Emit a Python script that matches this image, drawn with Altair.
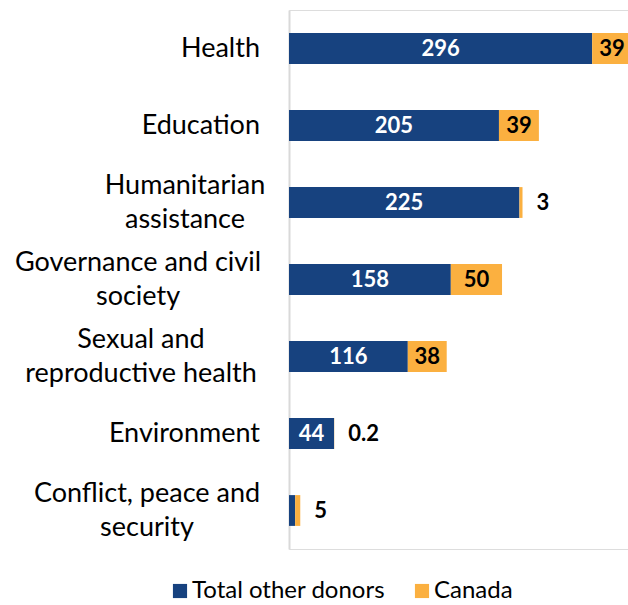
import altair as alt
import pandas as pd

categories = ["Health", "Education", "Humanitarian\nassistance", "Governance and civil\nsociety",
              "Sexual and\nreproductive health", "Environment", "Conflict, peace and\nsecurity"]
other_donors = [296, 205, 225, 158, 116, 44, 6]
canada = [39, 39, 3, 50, 38, 0.2, 5]
series = ["Total other donors", "Canada"]
colors = ["#17427F", "#FBB040"]

rows = []
for c, o, k in zip(categories, other_donors, canada):
    rows.append({"cat": c, "series": series[0], "value": o, "ord": 0,
                 "start": 0, "end": o, "label": f"{o:g}", "show": o >= 10})
    rows.append({"cat": c, "series": series[1], "value": k, "ord": 1,
                 "start": o, "end": o + k, "label": f"{k:g}", "show": True})
df = pd.DataFrame(rows)
df["mid"] = (df["start"] + df["end"]) / 2
df["inside"] = df["value"] >= 10

FONT = "Lato"
LABEL_SIZE = 27
y = alt.Y("cat:N", sort=categories, title=None,
          scale=alt.Scale(paddingInner=0.6, paddingOuter=0.3),
          axis=alt.Axis(labels=False, ticks=False, domainColor="#D9D9D9", domainWidth=2))
xscale = alt.Scale(domain=[0, 331], nice=False)

bars = alt.Chart(df).mark_bar(clip=True).encode(
    y=y,
    x=alt.X("start:Q", scale=xscale, axis=None),
    x2="end:Q",
    color=alt.Color("series:N", sort=series, scale=alt.Scale(domain=series, range=colors),
                    legend=alt.Legend(title=None, orient="none", direction="horizontal",
                                      legendX=-121, legendY=569, symbolType="square",
                                      symbolSize=200, labelFont=FONT, labelFontSize=24,
                                      labelColor="#000000", columnPadding=24, labelLimit=400,
                                      labelOffset=0, symbolStrokeWidth=0)),
    order="ord:Q",
)

inner_white = alt.Chart(df).transform_filter("datum.ord == 0 && datum.show").mark_text(
    font=FONT, fontSize=22, fontWeight="bold", color="white").encode(
    y=y, x=alt.X("mid:Q", scale=xscale), text="label:N")

inner_black = alt.Chart(df).transform_filter("datum.ord == 1 && datum.inside").mark_text(
    font=FONT, fontSize=22, fontWeight="bold", color="black").encode(
    y=y, x=alt.X("mid:Q", scale=xscale), text="label:N")

outer = alt.Chart(df).transform_filter("datum.ord == 1 && !datum.inside").mark_text(
    font=FONT, fontSize=22, fontWeight="bold", color="black", align="left", dx=14).encode(
    y=y, x=alt.X("end:Q", scale=xscale), text="label:N")

# category labels: single-line labels right-aligned; two-line labels are
# centred blocks whose right edge sits at the same place
lab_df = pd.DataFrame({"cat": categories})
single = alt.Chart(lab_df).transform_filter("indexof(datum.cat, '\\n') < 0").mark_text(
    font=FONT, fontSize=LABEL_SIZE, align="right", baseline="middle", color="black").encode(
    y=y, x=alt.value(-29), text="cat:N")

block_centre = {2: -104, 3: -151, 4: -148, 6: -142}
multi_layers = []
for i, xc in block_centre.items():
    multi_layers.append(
        alt.Chart(lab_df).transform_filter(alt.datum.cat == categories[i]).mark_text(
            font=FONT, fontSize=LABEL_SIZE, align="center", baseline="middle",
            lineBreak="\n", lineHeight=34, dy=-17, color="black").encode(
            y=y, x=alt.value(xc), text="cat:N"))

chart = alt.layer(bars, inner_white, inner_black, outer, single, *multi_layers).properties(
    width=339, height=539,
    autosize=alt.AutoSizeParams(type="none"),
    padding={"left": 289, "top": 10, "right": 0, "bottom": 56},
).configure_view(stroke=None).configure(background="white")

chart.save("out.html", embed_options={"renderer": "svg", "actions": False})
